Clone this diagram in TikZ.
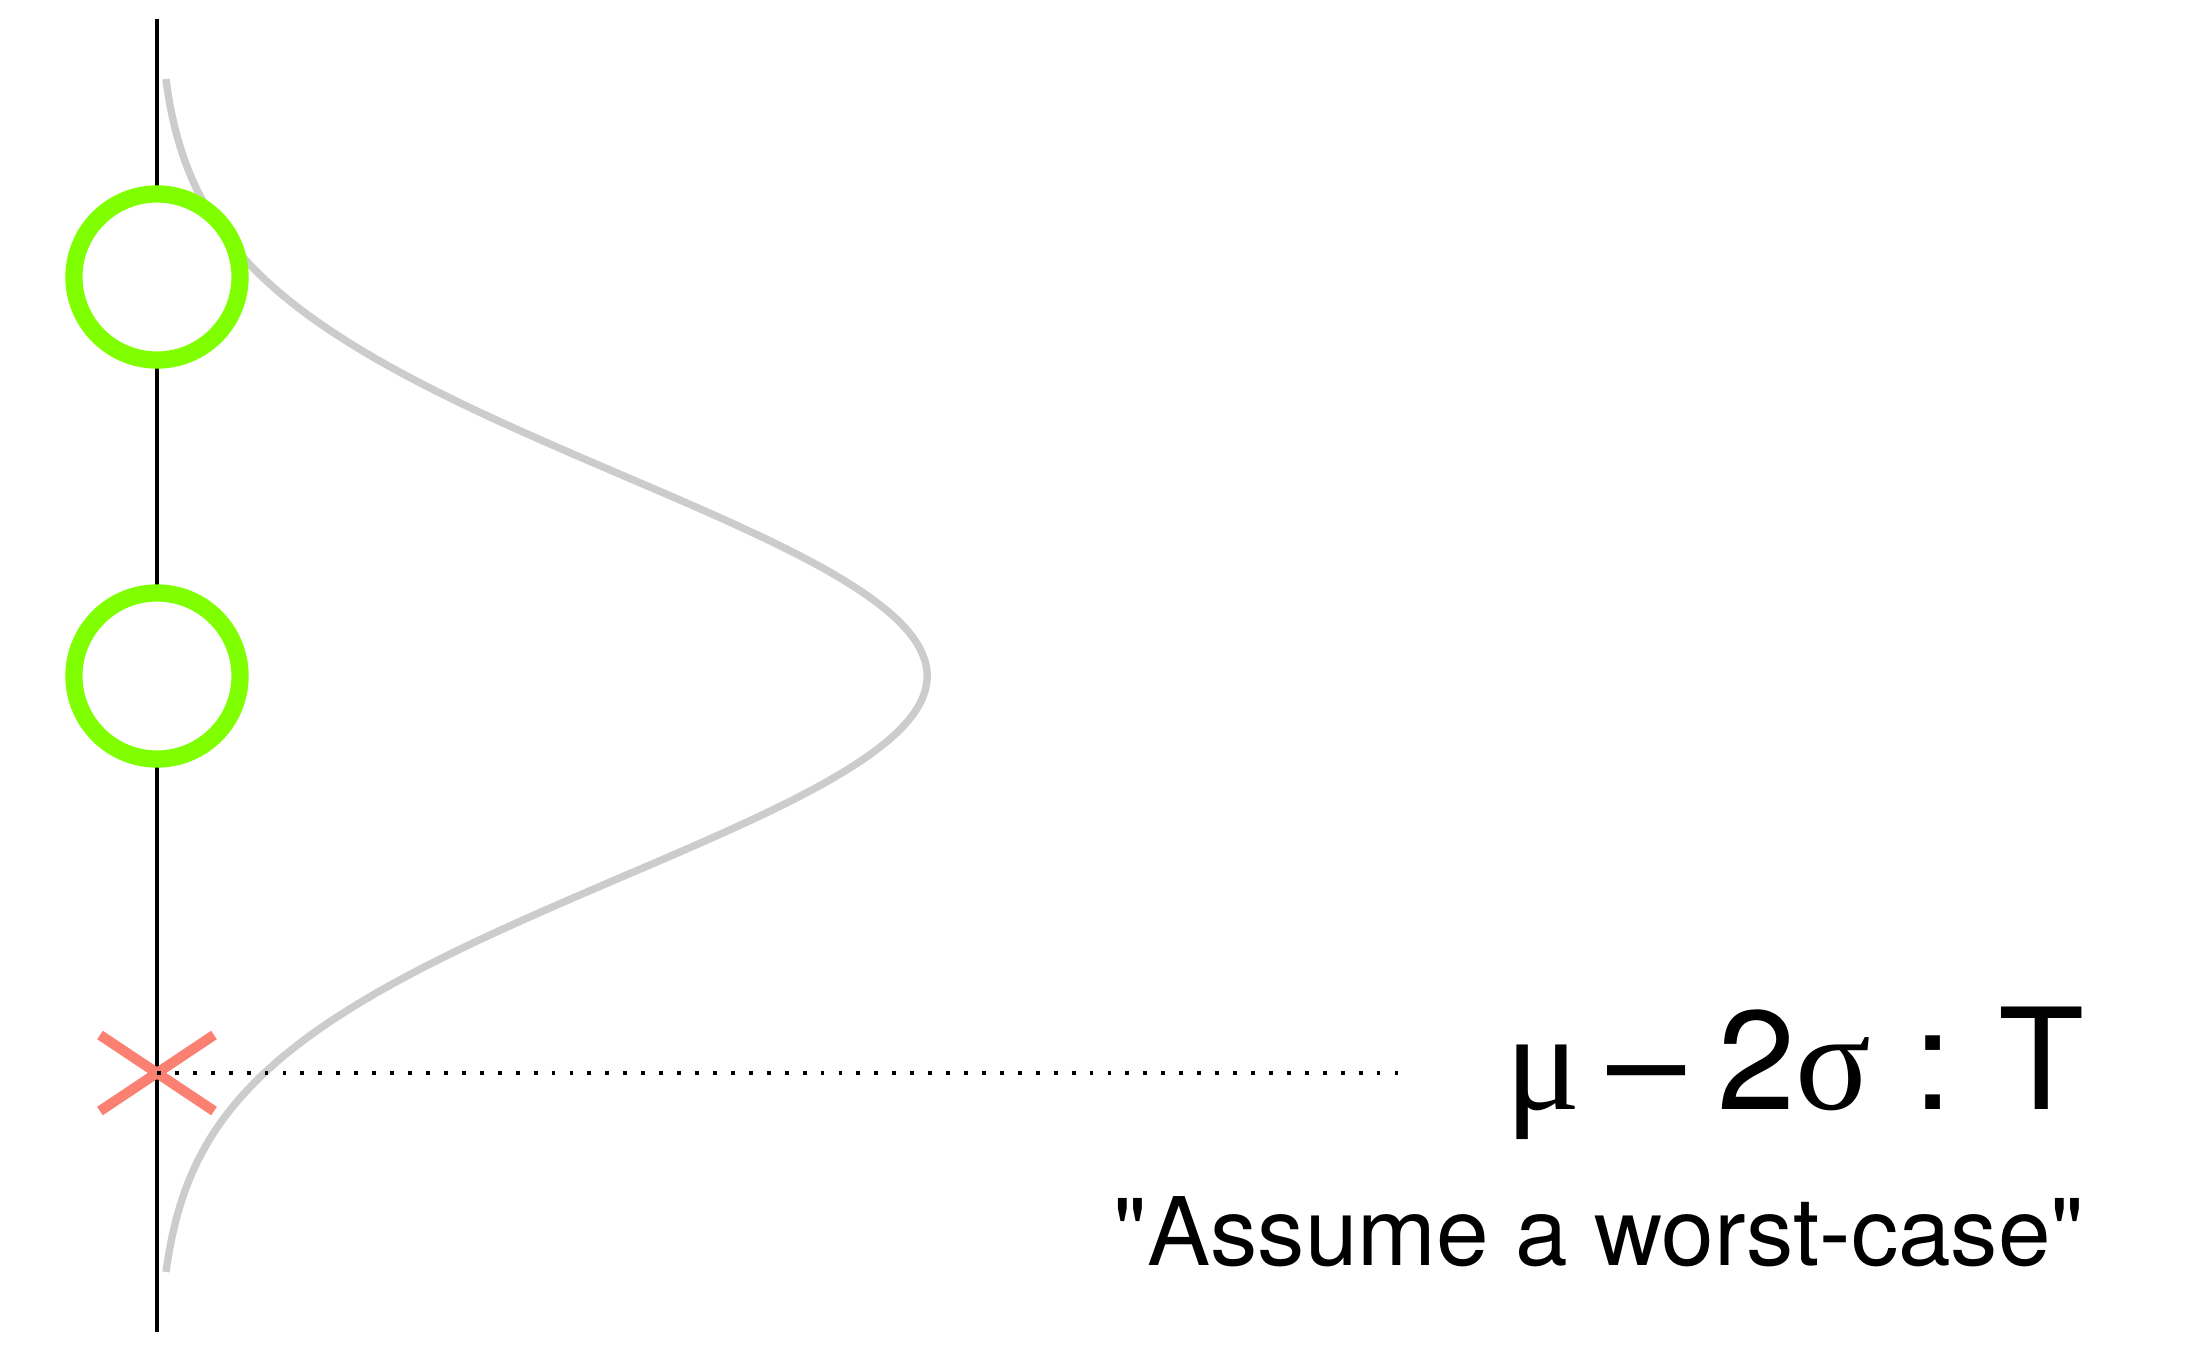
\documentclass[tikz,border=0pt]{standalone}
\usepackage{fontspec}
\setmainfont{TeX Gyre Heros}
\newfontfamily\greekfont{Liberation Serif}
\definecolor{ringgreen}{HTML}{80FF00}
\definecolor{curvegray}{HTML}{CCCCCC}
\definecolor{crosssalmon}{HTML}{FA8072}
\begin{document}
\begin{tikzpicture}[x=0.01cm,y=-0.01cm]
                \useasboundingbox (0,0) rectangle (2187,1351);
                \draw[line width=0.95pt] (157,19) -- (157,1332);

                % bell curve lying on its side
                \draw[curvegray,line width=2.1pt] plot[domain=-2.985:2.98,samples=120,smooth]
                    ({157+770*exp(-(\x*\x)/2)},{676+200*\x});

                \node[circle,draw=ringgreen,fill=white,line width=4.9pt,minimum size=1.66cm,inner sep=0pt] (top) at (157,277) {};
                \node[circle,draw=ringgreen,fill=white,line width=4.9pt,minimum size=1.66cm,inner sep=0pt] (mid) at (157,676) {};

                \coordinate (cut) at (157,1073);
                \draw[crosssalmon,line width=2.9pt] (cut) ++(-57,-38) -- ++(114,76);
                \draw[crosssalmon,line width=2.9pt] (cut) ++(-57,38) -- ++(114,-76);
                \coordinate (dotend) at (1406,1073);
                \draw[line width=1.1pt,dash pattern=on 1.1pt off 4pt] (cut) -- (dotend);

                \node[anchor=base east,inner sep=0pt,font=\fontsize{40}{48}\selectfont] (bound) at (2085,1109)
                    {{\greekfont μ}\hspace{7.5pt}–\hspace{9pt}2{\greekfont σ}\hspace{12pt}:\hspace{13pt}T};
                \node[anchor=base east,inner sep=0pt,font=\fontsize{26.9}{32}\selectfont] (quote) at (2085,1265)
                    {\textquotedbl Assume a worst-case\textquotedbl};
            \end{tikzpicture}
\end{document}
